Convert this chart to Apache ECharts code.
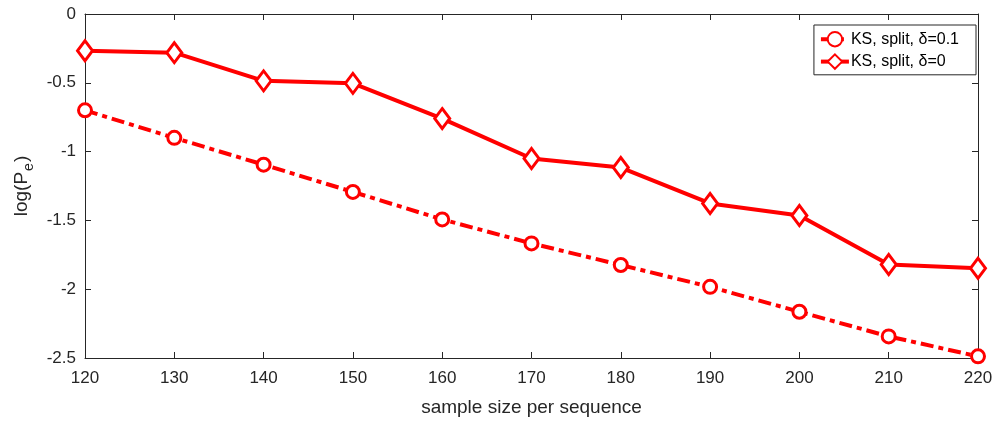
<!DOCTYPE html>
<html>
<head>
<meta charset="utf-8">
<script src="https://cdn.jsdelivr.net/npm/echarts@6/dist/echarts.min.js"></script>
<style>
html,body{margin:0;padding:0;background:#fff;}
#chart{width:997px;height:422px;}
</style>
</head>
<body>
<div id="chart"></div>
<script>
// sample sizes along the x axis
const sampleSizes = [120, 130, 140, 150, 160, 170, 180, 190, 200, 210, 220];
// log error probability, KS split test with delta = 0.1
const ksDelta01 = [-0.70, -0.90, -1.095, -1.293, -1.493, -1.667, -1.824, -1.983, -2.164, -2.343, -2.488];
// log error probability, KS split test with delta = 0
const ksDelta0 = [-0.267, -0.281, -0.486, -0.504, -0.760, -1.050, -1.116, -1.377, -1.464, -1.820, -1.848];
const seriesNames = ['KS, split, δ=0.1', 'KS, split, δ=0'];

const FONT = '"Liberation Sans", Arial, Helvetica, sans-serif';
const AX = '#262626';
const RED = '#ff0000';

function pairs(ys) { return sampleSizes.map((x, i) => [x, ys[i]]); }

const chart = echarts.init(document.getElementById('chart'), null, { renderer: 'canvas' });

const axisCommon = {
  axisLine: { show: true, onZero: false, lineStyle: { color: AX, width: 1 } },
  axisTick: { show: true, inside: true, length: 6, lineStyle: { color: AX } },
  splitLine: { show: false },
  axisLabel: { color: AX, fontFamily: FONT, fontSize: 17 }
};

chart.setOption({
  backgroundColor: '#fff',
  animation: false,
  grid: { left: 85, right: 19, top: 14, bottom: 64 },
  xAxis: [
    Object.assign({}, axisCommon, {
      type: 'value', min: 120, max: 220, interval: 10,
      position: 'bottom',
      axisLabel: Object.assign({}, axisCommon.axisLabel, { margin: 12 }),
      name: 'sample size per sequence', nameLocation: 'middle', nameGap: 40,
      nameTextStyle: { color: AX, fontFamily: FONT, fontSize: 19 }
    }),
    Object.assign({}, axisCommon, {
      type: 'value', min: 120, max: 220, interval: 10,
      position: 'top', axisLabel: { show: false }
    })
  ],
  yAxis: [
    Object.assign({}, axisCommon, {
      type: 'value', min: -2.5, max: 0, interval: 0.5,
      position: 'left',
      axisLabel: Object.assign({}, axisCommon.axisLabel, { margin: 9 }),
      name: 'log(P{sub|e})', nameLocation: 'middle', nameGap: 49, nameRotate: 90,
      nameTextStyle: {
        color: AX, fontFamily: FONT, fontSize: 19,
        rich: { sub: { color: AX, fontFamily: FONT, fontSize: 14, padding: [15, 1, 0, 1] } }
      }
    }),
    Object.assign({}, axisCommon, {
      type: 'value', min: -2.5, max: 0, interval: 0.5,
      position: 'right', axisLabel: { show: false }
    })
  ],
  legend: {
    orient: 'vertical',
    right: 21, top: 25,
    backgroundColor: '#fff',
    borderColor: AX, borderWidth: 1,
    padding: [6, 17, 5, 5],
    itemGap: 6, itemWidth: 28, itemHeight: 18,
    lineStyle: { width: 4 },
    textStyle: { color: '#000', fontFamily: FONT, fontSize: 16, padding: [0, 0, 0, -3] },
    data: seriesNames
  },
  series: [
    {
      name: seriesNames[0], type: 'line', xAxisIndex: 0, yAxisIndex: 0,
      data: pairs(ksDelta01),
      symbol: 'circle', symbolSize: 13,
      lineStyle: { color: RED, width: 4, type: [13, 5, 5, 5] },
      itemStyle: { color: '#fff', borderColor: RED, borderWidth: 3 },
      emphasis: { disabled: true }
    },
    {
      name: seriesNames[1], type: 'line', xAxisIndex: 0, yAxisIndex: 0,
      data: pairs(ksDelta0),
      symbol: 'diamond', symbolSize: [15, 20],
      lineStyle: { color: RED, width: 4 },
      itemStyle: { color: '#fff', borderColor: RED, borderWidth: 3 },
      emphasis: { disabled: true }
    }
  ]
});
</script>
</body>
</html>
